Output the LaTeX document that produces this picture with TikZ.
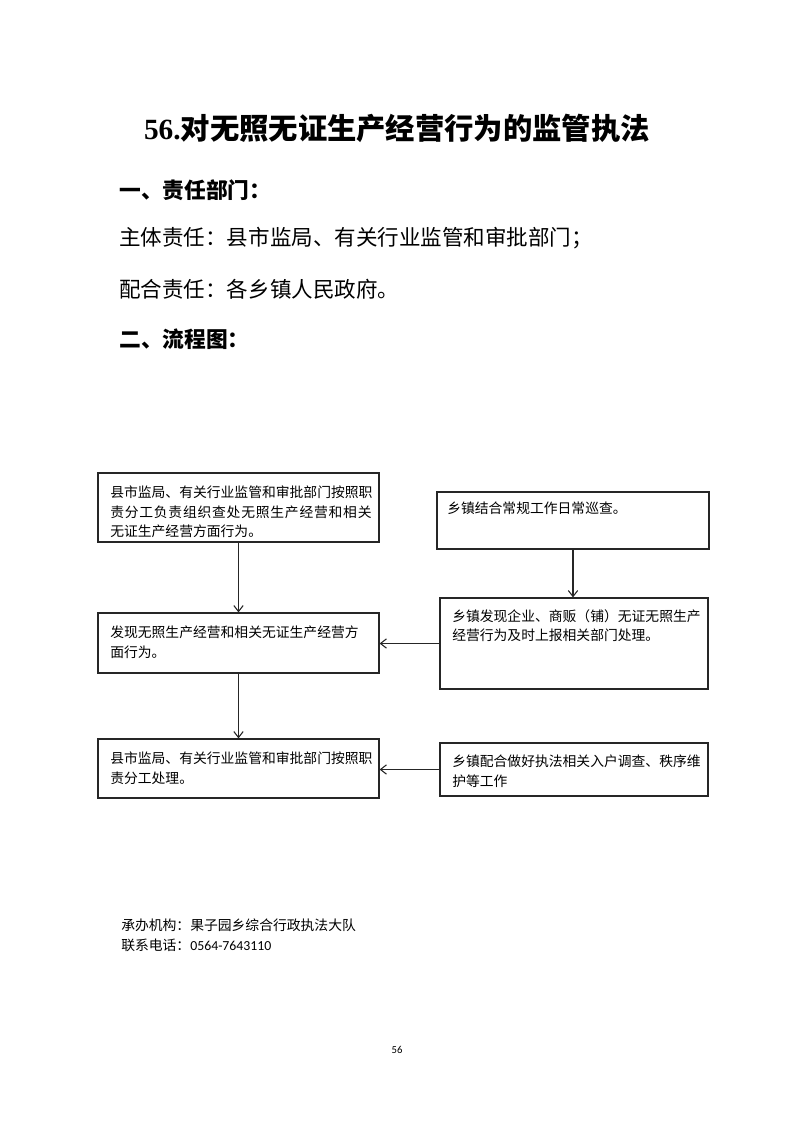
\documentclass[tikz,border=0pt]{standalone}
\usepackage{fontspec}
\setmainfont{Liberation Serif}
\newfontfamily\cjk{Noto Sans CJK SC}
\newfontfamily\carl{Carlito}
\newfontfamily\tnr{Liberation Serif}
\usetikzlibrary{arrows.meta,fit}
\begin{document}
\begin{tikzpicture}[x=0.75pt,y=-0.75pt,
  box/.style={draw=black!85, line width=0.9pt, inner sep=0pt},
  btxt/.style={inner sep=0pt, anchor=north west, align=left, font=\cjk\fontsize{10.35pt}{14.6pt}\selectfont},
  flow/.style={draw=black!85, line width=0.8pt, -{Straight Barb[length=4.5pt,width=7pt]}},
  head/.style={inner sep=0pt, anchor=west, font=\cjk\bfseries\fontsize{16.3pt}{19pt}\selectfont},
  body/.style={inner sep=0pt, anchor=west, font=\cjk\fontsize{16.15pt}{19pt}\selectfont},
  foot/.style={inner sep=0pt, anchor=west, font=\cjk\fontsize{10.35pt}{13pt}\selectfont},
]
\useasboundingbox (0,0) rectangle (793,1122);

% title and headings
\node[inner sep=0pt, anchor=center] (title) at (397,128)
  {\fontsize{22pt}{26pt}\selectfont\tnr\bfseries 56.\cjk\bfseries 对无照无证生产经营行为的监管执法};
\node[head] (h1) at (119,190) {一、责任部门：};
\node[body] (l1) at (119,238) {主体责任：县市监局、有关行业监管和审批部门；};
\node[body] (l2) at (119,289) {配合责任：各乡镇人民政府。};
\node[head] (h2) at (119,339) {二、流程图：};

% boxes
\node[box, fit={(98,473) (379,542)}] (A) {};
\node[box, fit={(437,492) (709,549)}] (B) {};
\node[box, fit={(98,613) (379,673)}] (C) {};
\node[box, fit={(440,598) (708,689)}] (D) {};
\node[box, fit={(98,739) (379,798)}] (E) {};
\node[box, fit={(440,743) (708,796)}] (F) {};

% box texts
\node[btxt] (At) at (110,486) {县市监局、有关行业监管和审批部门按照职\\
{\addfontfeature{LetterSpace=5.5}责分工负责组织查处无照生产经营和相关}\\
无证生产经营方面行为。};
\node[btxt] (Bt) at (447,502) {乡镇结合常规工作日常巡查。};
\node[btxt] (Ct) at (110,626) {发现无照生产经营和相关无证生产经营方\\面行为。};
\node[btxt] (Dt) at (452,609) {乡镇发现企业、商贩（铺）无证无照生产\\经营行为及时上报相关部门处理。};
\node[btxt] (Et) at (110,752) {县市监局、有关行业监管和审批部门按照职\\责分工处理。};
\node[btxt] (Ft) at (452,755) {乡镇配合做好执法相关入户调查、秩序维\\护等工作};

% connectors
\draw[flow] (A.south) -- (C.north);
\draw[flow] (B.south) -- (B.south |- D.north);
\draw[flow] (D.west) -- (D.west -| C.east);
\draw[flow] (C.south) -- (E.north);
\draw[flow] (F.west) -- (F.west -| E.east);

% footer
\node[foot] (f1) at (121,925) {承办机构：果子园乡综合行政执法大队};
\node[foot] (f2) at (121,945) {联系电话：{\carl 0564-7643110}};
\node[inner sep=0pt, font=\carl\fontsize{8pt}{9pt}\selectfont] (pg) at (397,1050) {56};
\end{tikzpicture}
\end{document}
